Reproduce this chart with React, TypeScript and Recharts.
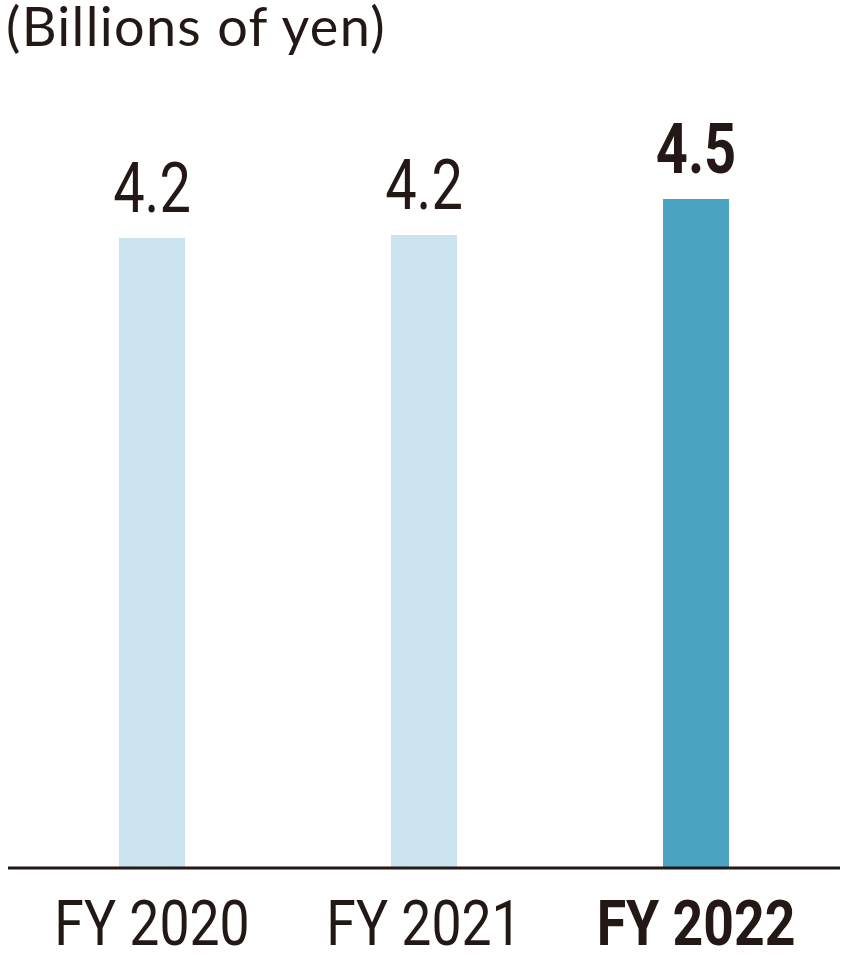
import React from "react";
import { BarChart, Bar, XAxis, YAxis, Cell, LabelList, ReferenceLine } from "recharts";

const years = ["FY 2020", "FY 2021", "FY 2022"];
const values = [4.2, 4.22, 4.46];
const highlightYear = "FY 2022";

const data = years.map((year, i) => ({ year, value: values[i] }));

const INK = "#231815";

const YearTick = (props: any) => {
  const { x, y, payload } = props;
  const bold = payload.value === highlightYear;
  return (
    <g transform={`translate(${x},${y + 69}) scale(0.85,1)`}>
      <text
        textAnchor="middle"
        fontFamily="Roboto"
        fontSize={63}
        fontWeight={bold ? 700 : 400}
        fill={INK}
      >
        {payload.value}
      </text>
    </g>
  );
};

const ValueLabel = (props: any) => {
  const { x, y, width, value, index } = props;
  const bold = years[index] === highlightYear;
  return (
    <g transform={`translate(${x + width / 2},${y - 26}) scale(0.8,1)`}>
      <text
        textAnchor="middle"
        fontFamily="Roboto"
        fontSize={70}
        fontWeight={bold ? 700 : 400}
        fill={INK}
      >
        {Number(value).toFixed(1)}
      </text>
    </g>
  );
};

const App = () => {
  return (
    <div style={{ position: "absolute", top: 0, left: 0, width: 850, height: 955, background: "#fff" }}>
      <div
        style={{
          position: "absolute",
          top: 0,
          left: 6,
          fontFamily: "Lato",
          fontSize: 54,
          letterSpacing: 1.3,
          lineHeight: 0.95,
          color: INK,
          whiteSpace: "nowrap",
        }}
      >
        (Billions of yen)
      </div>
      <BarChart
        width={850}
        height={955}
        data={data}
        margin={{ top: 118, right: 10, left: 8, bottom: 57 }}
        barCategoryGap={0}
      >
        <XAxis
          dataKey="year"
          padding={{ left: 8, right: 8 }}
          tickLine={false}
          axisLine={false}
          tick={<YearTick />}
          height={30}
          interval={0}
        />
        <YAxis hide domain={[0, 5]} />
        <Bar dataKey="value" barSize={66} isAnimationActive={false}>
          {data.map((d) => (
            <Cell key={d.year} fill={d.year === highlightYear ? "#4aa3c0" : "#cce4f0"} />
          ))}
          <LabelList dataKey="value" content={<ValueLabel />} />
        </Bar>
        <ReferenceLine y={0} stroke={INK} strokeWidth={3} />
      </BarChart>
    </div>
  );
};

export default App;
